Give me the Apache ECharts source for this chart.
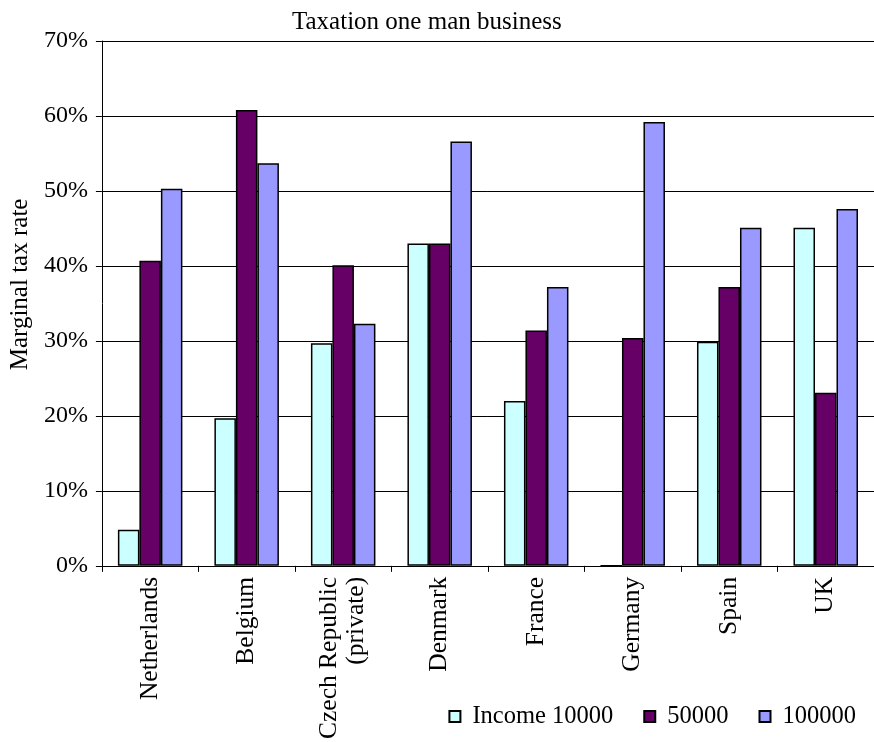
<!DOCTYPE html>
<html>
<head>
<meta charset="utf-8">
<script src="https://cdn.jsdelivr.net/npm/echarts@6/dist/echarts.min.js"></script>
<style>
html,body{margin:0;padding:0;background:#fff;}
#chart{width:874px;height:742px;}
</style>
</head>
<body>
<div id="chart"></div>
<script>
var titleText = 'Taxation one man business';
var yAxisName = 'Marginal tax rate';
var categories = ['Netherlands', 'Belgium', 'Czech Republic\n(private)', 'Denmark', 'France', 'Germany', 'Spain', 'UK'];
var seriesNames = ['Income 10000', '50000', '100000'];
var income10000 = [4.8, 19.7, 29.7, 43.0, 22.0, 0, 29.9, 45.1];
var income50000 = [40.7, 60.8, 40.1, 43.0, 31.4, 30.4, 37.2, 23.1];
var income100000 = [50.3, 53.7, 32.3, 56.6, 37.2, 59.2, 45.1, 47.6];
var yMin = 0, yMax = 70, yInterval = 10;

var FONT = "'Liberation Serif', 'Times New Roman', serif";
var colors = ['#CCFFFF', '#660066', '#9999FF'];
var values = [income10000, income50000, income100000];

var chart = echarts.init(document.getElementById('chart'), null, {renderer: 'canvas'});
chart.setOption({
  animation: false,
  backgroundColor: '#fff',
  textStyle: {fontFamily: FONT, color: '#000'},
  title: {
    text: titleText,
    left: 287, top: 5,
    textStyle: {fontFamily: FONT, fontSize: 25, fontWeight: 'normal', color: '#000'}
  },
  legend: {
    right: 13, top: 699,
    itemWidth: 11, itemHeight: 11, itemGap: 30,
    icon: 'rect',
    textStyle: {fontFamily: FONT, fontSize: 24.5, color: '#000', padding: [0,0,0,7]},
    data: seriesNames
  },
  grid: {left: 96, top: 41, width: 786, height: 525, containLabel: false},
  xAxis: {
    type: 'category',
    data: categories,
    boundaryGap: true,
    axisLine: {lineStyle: {color: '#000', width: 1}},
    axisTick: {show: true, inside: false, length: 6, alignWithLabel: false, lineStyle: {color: '#000'}},
    axisLabel: {rotate: 90, interval: 0, margin: 11, fontFamily: FONT, fontSize: 25.5, color: '#000', lineHeight: 27}
  },
  yAxis: {
    type: 'value',
    min: yMin, max: yMax, interval: yInterval,
    name: yAxisName,
    nameLocation: 'middle',
    nameRotate: 90,
    nameGap: 66,
    nameTextStyle: {fontFamily: FONT, fontSize: 25, color: '#000', padding: [0, 0, 0, 38]},
    axisLine: {show: true, lineStyle: {color: '#000', width: 1}},
    axisTick: {show: true, inside: false, length: 6, lineStyle: {color: '#000'}},
    axisLabel: {formatter: '{value}%', margin: 14, fontFamily: FONT, fontSize: 24, color: '#000'},
    splitLine: {show: true, lineStyle: {color: '#000', width: 1}}
  },
  series: seriesNames.map(function (n, i) {
    return {
      name: n,
      type: 'bar',
      data: values[i],
      barWidth: 21.5,
      barGap: '0%',
      itemStyle: {color: colors[i], borderColor: '#000', borderWidth: 1.5}
    };
  })
});
</script>
</body>
</html>
